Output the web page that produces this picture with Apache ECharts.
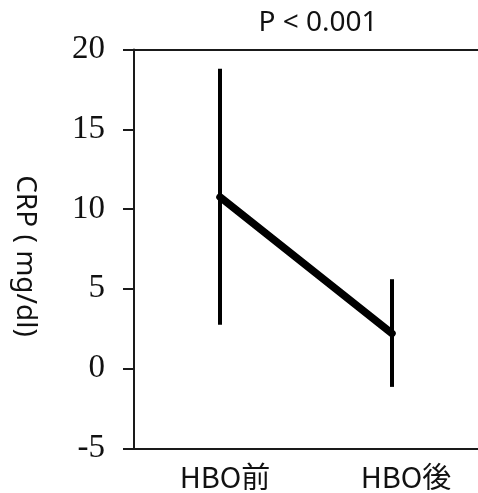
<!DOCTYPE html>
<html><head><meta charset="utf-8">
<script src="https://cdn.jsdelivr.net/npm/echarts@6/dist/echarts.min.js"></script>
<style>html,body{margin:0;padding:0;background:#fff}#c{width:478px;height:493px}</style>
</head><body><div id="c"></div>
<script>
var categories = ['HBO前', 'HBO後'];
var means = [10.75, 2.2];
var lows = [2.75, -1.15];
var highs = [18.8, 5.6];
var yTicks = { min: -5, max: 20, interval: 5 };
var titleText = 'P < 0.001';
var yName = 'CRP ( mg/dl)';

var chart = echarts.init(document.getElementById('c'), null, { renderer: 'canvas' });
var errData = categories.map(function (c, i) { return [i, lows[i], highs[i]]; });
var labStyle = { color: '#111', fontSize: 29, fontFamily: 'Noto Sans CJK JP' };
chart.setOption({
  animation: false,
  backgroundColor: '#fff',
  grid: { left: 134, right: -4, top: 49.5, bottom: 44.7, containLabel: false },
  xAxis: [{
    type: 'category', data: categories, boundaryGap: true,
    axisLine: { show: true, onZero: false, lineStyle: { color: '#1a1a1a', width: 2 } },
    axisTick: { show: false },
    axisLabel: {
      interval: 0, hideOverlap: false,
      color: '#111', fontSize: 29, fontFamily: 'Noto Sans CJK JP', margin: 14,
      formatter: function (v, i) { return '{' + (i === 0 ? 'a' : 'b') + '|' + v + '}'; },
      rich: {
        a: Object.assign({ padding: [0, 0, 0, 10] }, labStyle),
        b: Object.assign({ padding: [0, 0, 0, 28] }, labStyle)
      }
    },
    splitLine: { show: false }
  }, {
    type: 'category', data: categories, position: 'top',
    axisLine: { show: true, onZero: false, lineStyle: { color: '#1a1a1a', width: 2 } },
    axisTick: { show: false }, axisLabel: { show: false }
  }],
  yAxis: {
    type: 'value', min: yTicks.min, max: yTicks.max, interval: yTicks.interval,
    axisLine: { show: true, lineStyle: { color: '#1a1a1a', width: 2 } },
    axisTick: { show: true, length: 11, lineStyle: { color: '#1a1a1a', width: 2 } },
    axisLabel: { color: '#111', fontSize: 33, fontFamily: 'Liberation Serif', margin: 29 },
    splitLine: { show: false }
  },
  graphic: [
    { type: 'text', x: 318, y: 23, style: { text: titleText, fontSize: 28, fontFamily: 'Noto Sans', fill: '#111', align: 'center', verticalAlign: 'middle' } },
    { type: 'text', x: 25, y: 256, rotation: -Math.PI / 2,
      style: { text: yName, fontSize: 28, fontFamily: 'Noto Sans', fill: '#111', align: 'center', verticalAlign: 'middle' } }
  ],
  series: [{
    type: 'custom', data: errData, z: 2,
    renderItem: function (params, api) {
      var p1 = api.coord([api.value(0), api.value(1)]);
      var p2 = api.coord([api.value(0), api.value(2)]);
      return { type: 'line', shape: { x1: p1[0], y1: p1[1], x2: p2[0], y2: p2[1] },
        style: { stroke: '#000', lineWidth: 4 } };
    }
  }, {
    type: 'line', data: means, z: 3, symbol: 'none',
    lineStyle: { color: '#000', width: 7.5, cap: 'round' }
  }]
});
</script></body></html>
